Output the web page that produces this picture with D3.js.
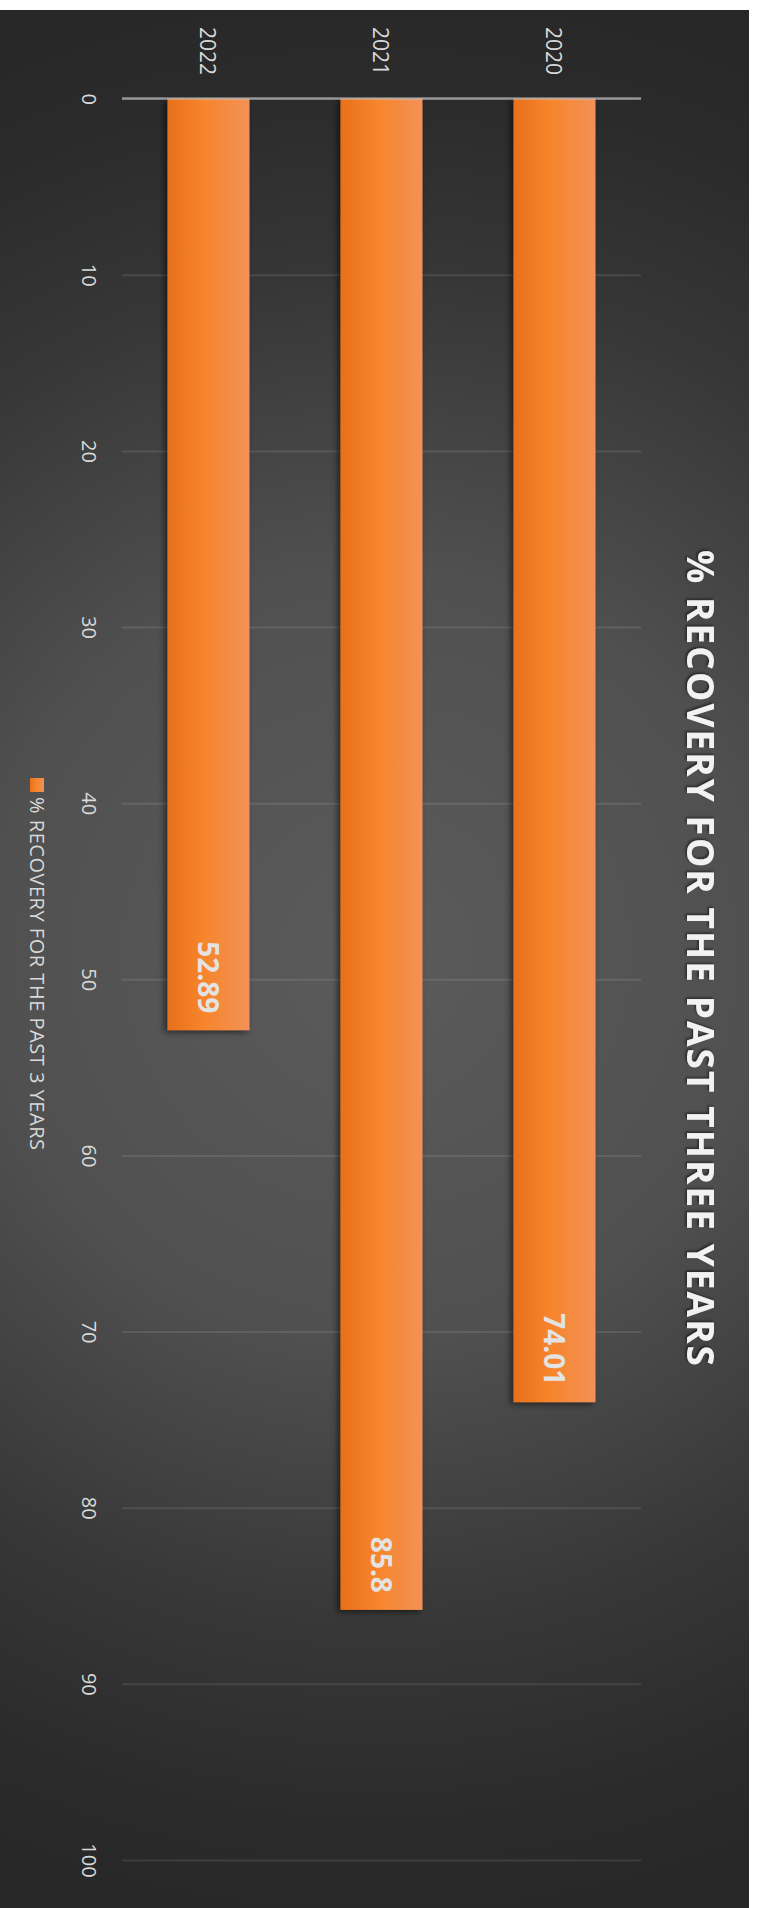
<!DOCTYPE html>
<html>
<head>
<meta charset="utf-8">
<script src="https://cdn.jsdelivr.net/npm/d3@7"></script>
<style>
    body { margin: 0; background: #ffffff; }
    svg { display: block; font-family: "Open Sans", sans-serif; }
</style>
</head>
<body>
<svg id="chart" width="758" height="1908"></svg>
<script>
const categories = ["2022", "2021", "2020"];
const values = [52.89, 85.8, 74.01];
const valueTicks = [0, 10, 20, 30, 40, 50, 60, 70, 80, 90, 100];
const chartTitle = "% RECOVERY FOR THE PAST THREE YEARS";
const legendLabel = "% RECOVERY FOR THE PAST 3 YEARS";

const svg = d3.select("#chart");
const width = +svg.attr("width");
const height = +svg.attr("height");

// chart is turned a quarter turn: values run downward, categories across
const plot = { left: 122, right: 641, top: 98.6, bottom: 1860 };

const defs = svg.append("defs");

const bg = defs.append("radialGradient")
    .attr("id", "bg")
    .attr("gradientUnits", "userSpaceOnUse")
    .attr("cx", 377).attr("cy", 955).attr("r", 960);
bg.append("stop").attr("offset", 0).attr("stop-color", "#5b5b5b");
bg.append("stop").attr("offset", 0.4).attr("stop-color", "#505050");
bg.append("stop").attr("offset", 0.7).attr("stop-color", "#373737");
bg.append("stop").attr("offset", 0.9).attr("stop-color", "#2b2b2b");
bg.append("stop").attr("offset", 1).attr("stop-color", "#282828");

const barFill = defs.append("linearGradient")
    .attr("id", "barFill")
    .attr("x1", 0).attr("x2", 1).attr("y1", 0).attr("y2", 0);
barFill.append("stop").attr("offset", 0).attr("stop-color", "#e8701a");
barFill.append("stop").attr("offset", 0.45).attr("stop-color", "#f7852c");
barFill.append("stop").attr("offset", 1).attr("stop-color", "#f29158");

const shadow = defs.append("filter")
    .attr("id", "shadow")
    .attr("x", "-30%").attr("y", "-5%").attr("width", "160%").attr("height", "110%");
shadow.append("feDropShadow")
    .attr("dx", -3).attr("dy", 2)
    .attr("stdDeviation", 3)
    .attr("flood-color", "#000")
    .attr("flood-opacity", 0.55);

const titleShadow = defs.append("filter").attr("id", "titleShadow");
titleShadow.append("feDropShadow")
    .attr("dx", -1.5).attr("dy", 1.5)
    .attr("stdDeviation", 1.2)
    .attr("flood-color", "#000")
    .attr("flood-opacity", 0.5);

// background
svg.append("rect")
    .attr("x", 0).attr("y", 10)
    .attr("width", 749).attr("height", height - 10)
    .attr("fill", "url(#bg)");

const x = d3.scaleBand()
    .domain(categories)
    .range([plot.left, plot.right])
    .paddingInner(0.526)
    .paddingOuter(0.263);

const y = d3.scaleLinear()
    .domain([0, 100])
    .range([plot.top, plot.bottom]);

// value axis + gridlines
const yAxis = svg.append("g")
    .attr("transform", `translate(${plot.left}, 0)`)
    .call(d3.axisLeft(y)
        .tickValues(valueTicks)
        .tickSize(-(plot.right - plot.left))
        .tickFormat(d3.format("d")))
    .attr("font-family", "Open Sans, sans-serif");

yAxis.select(".domain").remove();
yAxis.selectAll(".tick line")
    .attr("stroke", "rgba(255,255,255,0.1)")
    .attr("stroke-width", 2);
yAxis.selectAll(".tick text")
    .attr("x", null).attr("dy", null)
    .attr("transform", `translate(${82 - plot.left}, 0) rotate(90)`)
    .attr("text-anchor", "middle")
    .attr("fill", "#d9d9d9")
    .style("font-size", "20px");

// bars
const data = categories.map((c, i) => ({ label: c, value: values[i] }));

svg.append("g")
    .selectAll("rect")
    .data(data)
    .join("rect")
    .attr("x", d => x(d.label))
    .attr("y", y(0))
    .attr("width", x.bandwidth())
    .attr("height", d => y(d.value) - y(0))
    .attr("fill", "url(#barFill)")
    .attr("filter", "url(#shadow)");

// zero line on top of the bars
svg.append("line")
    .attr("x1", plot.left).attr("x2", plot.right)
    .attr("y1", y(0)).attr("y2", y(0))
    .attr("stroke", "rgba(200,200,200,0.65)")
    .attr("stroke-width", 2.5);

// category axis
const xAxis = svg.append("g")
    .attr("transform", `translate(0, ${y(0)})`)
    .call(d3.axisTop(x).tickSize(0))
    .attr("font-family", "Open Sans, sans-serif");

xAxis.select(".domain").remove();
xAxis.selectAll(".tick text")
    .attr("y", null).attr("dy", null)
    .attr("transform", "translate(-8.5, -23.6) rotate(90)")
    .attr("text-anchor", "end")
    .attr("fill", "#d9d9d9")
    .style("font-size", "21px");

// data labels
svg.append("g")
    .selectAll("text")
    .data(data)
    .join("text")
    .attr("transform", d =>
        `translate(${x(d.label) + x.bandwidth() / 2 - 10.5}, ${y(d.value) - 17}) rotate(90)`)
    .attr("text-anchor", "end")
    .attr("fill", "#e3e3e3")
    .style("font-size", "28px")
    .style("font-weight", "bold")
    .text(d => d.value);

// title
svg.append("text")
    .attr("transform", "translate(687, 958) rotate(90)")
    .attr("text-anchor", "middle")
    .attr("textLength", 816)
    .attr("lengthAdjust", "spacing")
    .attr("fill", "#f2f2f2")
    .attr("filter", "url(#titleShadow)")
    .style("font-size", "37px")
    .style("font-weight", "bold")
    .text(chartTitle);

// legend
svg.append("rect")
    .attr("x", 30).attr("y", 778)
    .attr("width", 14).attr("height", 14)
    .attr("fill", "url(#barFill)");

svg.append("text")
    .attr("transform", "translate(30, 797) rotate(90)")
    .attr("text-anchor", "start")
    .attr("textLength", 353)
    .attr("lengthAdjust", "spacing")
    .attr("fill", "#d9d9d9")
    .style("font-size", "20px")
    .text(legendLabel);
</script>
</body>
</html>
